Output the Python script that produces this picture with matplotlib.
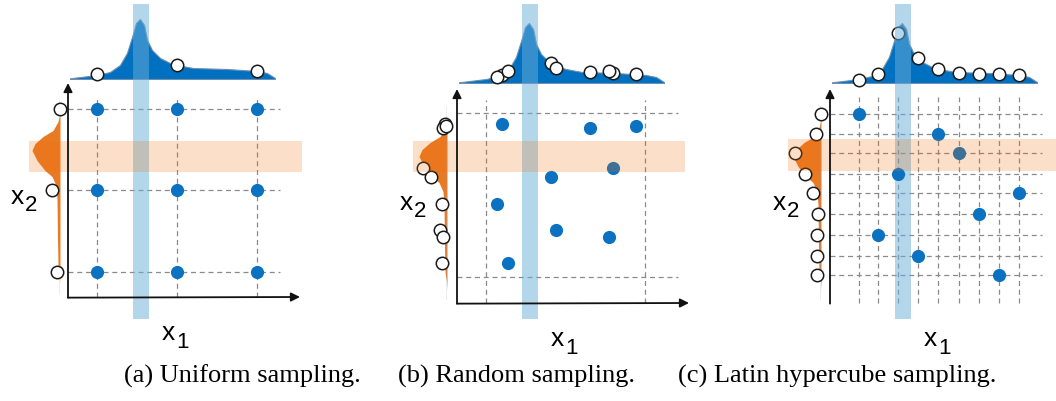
import matplotlib.pyplot as plt

plt.rcParams['font.family'] = 'Liberation Sans'

FW, FH = 1056, 401      # figure size in pixels
UX, UY = 232, 214       # pixels per unit along x1 / x2

BLUE = '#0a72c0'
DENS_BLUE = '#0070c0'
ORANGE = '#e87a24'

# marginal density along x1 (top), shared by all panels
dens_x1_u = [0.009, 0.125, 0.181, 0.224, 0.254, 0.276, 0.293, 0.310, 0.328, 0.341,
             0.362, 0.397, 0.440, 0.470, 0.539, 0.685, 0.815, 0.858, 0.892]
dens_x1 = [0.7, 4, 7, 14, 26, 42, 56, 60, 54, 39, 29, 21, 16, 14, 11, 10, 8, 6, 1]

# marginal density along x2 (left), shared by all panels
dens_x2_v = [0.88, 0.848, 0.82, 0.778, 0.75, 0.717, 0.685, 0.638, 0.591, 0.563,
             0.521, 0.46, 0.273, 0.147, 0.10, 0.063]
dens_x2 = [0, 0.5, 2, 7, 17, 25, 28, 23, 15, 8, 4, 3, 2.5, 2, 0.5, 0]

# (a) uniform sampling: 3x3 grid
uni_x1 = [0.125, 0.470, 0.815]
uni_x2 = [0.117, 0.500, 0.879]
uni_top = [5, 14, 8]
uni_side = [3, 8, 0]

# (b) random sampling
rnd_x1 = [0.194, 0.573, 0.772, 0.672, 0.405, 0.172, 0.427, 0.655, 0.220]
rnd_x2 = [0.836, 0.818, 0.827, 0.631, 0.589, 0.463, 0.341, 0.308, 0.187]
rnd_top = [8, 11, 9, 10, 20, 6, 15, 12, 12]
rnd_side = [2, 4, 1, 24, 16, 5, 7, 4, 5]
rnd_grid_x1 = [0.125, 0.810]
rnd_grid_x2 = [0.121, 0.888]

# (c) latin hypercube sampling: one point per row / column
lhs_x1 = [0.125, 0.207, 0.293, 0.379, 0.466, 0.556, 0.642, 0.728, 0.815]
lhs_x2 = [0.883, 0.790, 0.701, 0.603, 0.514, 0.416, 0.318, 0.220, 0.131]
lhs_col = [0, 4, 5, 2, 8, 6, 1, 3, 7]
lhs_top = [3, 9, 50, 25, 14, 10, 9, 9, 8]
lhs_side = [0, 5, 26, 16, 8, 3, 4, 4, 4]

fig = plt.figure(figsize=(FW / 100, FH / 100), dpi=100)
fig.patch.set_facecolor('white')


def panel(ox, oy, top_base, side_x, px, py, top_x, top_h, side_y, side_w,
          vlines, vtop, hlines, hright, hband, hband_px, caption, cap_x):
    # top marginal
    axt = fig.add_axes([ox / FW, 1 - top_base / FH, UX / FW, 70 / FH], zorder=1)
    axt.set_xlim(0, 1)
    axt.set_ylim(0, 70)
    axt.axis('off')
    axt.fill_between(dens_x1_u, 0, dens_x1, color=DENS_BLUE, edgecolor='#6e8fb0', lw=0.8)
    axt.scatter(top_x, top_h, s=80, facecolor='white', edgecolor='#1a1a1a', lw=1.1,
                zorder=3, clip_on=False)

    # left marginal
    axl = fig.add_axes([(side_x - 40) / FW, 1 - oy / FH, 40 / FW, UY / FH], zorder=1)
    axl.set_xlim(40, 0)
    axl.set_ylim(0, 1)
    axl.axis('off')
    axl.plot([0, 0], [0.02, 0.92], color='#a0a0a0', lw=1)
    axl.fill_betweenx(dens_x2_v, 0, dens_x2, color=ORANGE, lw=0)
    axl.scatter(side_w, side_y, s=80, facecolor='white', edgecolor='#1a1a1a', lw=1.1,
                zorder=3, clip_on=False)

    # main plane
    ax = fig.add_axes([0, 0, 1, 1], zorder=2)
    ax.set_xlim(-ox / UX, (FW - ox) / UX)
    ax.set_ylim((oy - FH) / UY, oy / UY)
    ax.axis('off')
    ax.patch.set_visible(False)
    for u in vlines:
        ax.plot([u, u], [0, vtop], ls=(0, (4, 3)), color='#8a8a8a', lw=0.9, zorder=1)
    for v in hlines:
        ax.plot([0, hright], [v, v], ls=(0, (4, 3)), color='#8a8a8a', lw=0.9, zorder=1)

    ax.axvspan(0.28, 0.35, ymin=1 - 319 / FH, ymax=1 - 4 / FH, color='#6aaed9', alpha=0.5,
               lw=0, zorder=3)
    ax.scatter(px, py, s=90, color=BLUE, lw=0, zorder=4)
    ax.axhspan(hband[0], hband[1], xmin=hband_px[0] / FW, xmax=hband_px[1] / FW,
               color='#f36e0a', alpha=0.22, lw=0, zorder=5)

    arrow = dict(arrowstyle='-|>', color='#111111', lw=1.3, mutation_scale=13,
                 shrinkA=0, shrinkB=0)
    ax.annotate('', xy=(1.0, 0), xytext=(0, -0.003), arrowprops=arrow, zorder=6)
    ax.annotate('', xy=(0, 1.0), xytext=(0, -0.003), arrowprops=arrow, zorder=6)

    ax.text(0.46, -0.20, 'x', fontsize=19, ha='right', va='baseline')
    ax.text(0.465, -0.24, '1', fontsize=16, ha='left', va='baseline')
    ax.text(-0.19, 0.435, 'x', fontsize=19, ha='right', va='baseline')
    ax.text(-0.185, 0.40, '2', fontsize=16, ha='left', va='baseline')

    fig.text(cap_x / FW, 1 - 383 / FH, caption, family='Liberation Serif', fontsize=19,
             ha='center', va='baseline')


# (a)
ux = [u for v in uni_x2 for u in uni_x1]
uy = [v for v in uni_x2 for u in uni_x1]
panel(68, 297, 79, 60, ux, uy, uni_x1, uni_top, uni_x2, uni_side,
      uni_x1, 0.93, uni_x2, 0.914, (0.584, 0.729), (29, 302),
      '(a) Uniform sampling.', 242)

# (b)
panel(457, 303, 83, 447, rnd_x1, rnd_x2, rnd_x1, rnd_top, rnd_x2, rnd_side,
      rnd_grid_x1, 0.95, rnd_grid_x2, 0.953, (0.612, 0.757), (413, 685),
      '(b) Random sampling.', 516)

# (c)
lx = [lhs_x1[c] for c in lhs_col]
panel(830, 303, 83, 821, lx, lhs_x2, lhs_x1, lhs_top, lhs_x2, lhs_side,
      lhs_x1, 0.963, lhs_x2, 0.914, (0.617, 0.766), (788, 1056),
      '(c) Latin hypercube sampling.', 837)

fig.savefig('out.png', dpi=100)
